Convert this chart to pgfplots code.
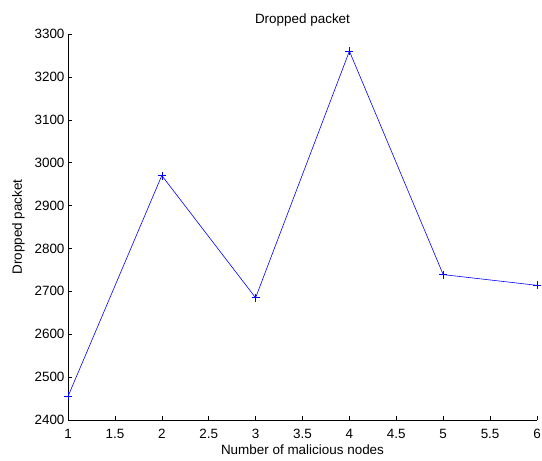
\documentclass[border=0pt]{standalone}
\usepackage{pgfplots}
\pgfplotsset{compat=1.18}
\usepackage{fontspec}
\setmainfont{Liberation Sans}
\begin{document}
\begin{tikzpicture}
\useasboundingbox (-68bp,-41bp) rectangle (474bp,420bp);
\begin{axis}[
  at={(0,0)}, anchor=south west,
  scale only axis,
  width=469bp, height=386bp,
  xmin=1, xmax=6, ymin=2400, ymax=3300,
  axis lines*=left,
  axis line style={black, line width=0.6pt},
  tick align=inside,
  tick style={black, line width=0.5pt},
  major tick length=4bp,
  xtick={1,1.5,...,6},
  ytick={2400,2500,...,3300},
  xticklabels={1,1.5,2,2.5,3,3.5,4,4.5,5,5.5,6},
  /pgf/number format/assume math mode=true,
  scaled y ticks=false,
  yticklabel style={/pgf/number format/1000 sep={}},
  xticklabel style={yshift=-6bp},
  font=\fontsize{13.5}{15}\selectfont,
  ticklabel style={font=\fontsize{13.5}{15}\selectfont},
  title={Dropped packet},
  title style={font=\fontsize{13.5}{15}\selectfont, yshift=-2bp},
  xlabel={Number of malicious nodes},
  ylabel={Dropped packet},
  xlabel style={yshift=1bp},
  ylabel style={yshift=3bp},
  clip=false,
]
\addplot[color=blue, line width=0.6pt, mark=+, mark size=4bp, mark options={line width=0.6pt, draw=blue}] coordinates {
  (1,2455) (2,2970) (3,2685) (4,3260) (5,2739) (6,2714)
};
\end{axis}
\end{tikzpicture}
\end{document}
